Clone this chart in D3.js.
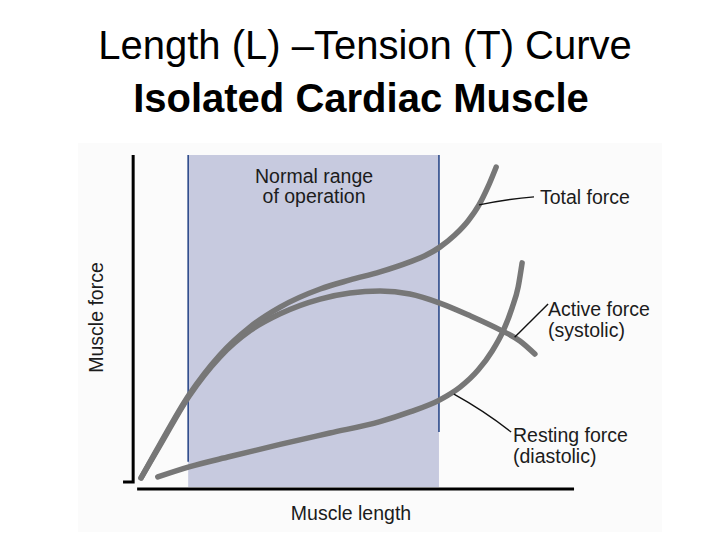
<!DOCTYPE html>
<html>
<head>
<meta charset="utf-8">
<script src="https://cdn.jsdelivr.net/npm/d3@7"></script>
<style>
  body { margin: 0; background: #fff; }
  svg { display: block; font-family: "Liberation Sans", Arial, sans-serif; }
</style>
</head>
<body>
<svg id="chart" width="728" height="546"></svg>
<script>
// ------------------------------------
// Data (arbitrary units: length 0-100, force 0-100)
// ------------------------------------
const totalForce = [
  [0.7, 3.6], [5.0, 13.7], [11.6, 28.4], [18.6, 40.3], [25.5, 48.7],
  [32.3, 54.6], [41.4, 60.0], [48.2, 62.7], [55.0, 65.1], [61.8, 68.1],
  [65.2, 69.9], [68.6, 72.5], [72.0, 76.1], [75.0, 80.3], [77.5, 85.1],
  [79.5, 90.4], [81.4, 96.4]
];

const activeForce = [
  [0.7, 3.6], [5.0, 13.3], [11.6, 28.0], [18.6, 39.7], [25.5, 47.6],
  [32.3, 52.6], [41.4, 57.0], [48.2, 58.8], [55.0, 59.4], [61.8, 58.5],
  [68.6, 55.8], [75.5, 52.0], [82.3, 47.8], [86.8, 44.5], [90.2, 40.6]
];

const restingForce = [
  [4.5, 3.9], [11.6, 6.9], [20.9, 10.0], [32.3, 13.6], [43.6, 17.0],
  [55.0, 20.4], [61.8, 23.3], [68.6, 26.9], [73.2, 30.7], [77.3, 35.8],
  [80.5, 41.5], [83.0, 47.5], [85.0, 54.3], [86.4, 60.6], [87.3, 67.8]
];

const normalRange = [11.4, 68.4];
const titleLines = ["Length (L) \u2013Tension (T) Curve", "Isolated Cardiac Muscle"];

// curve labels: anchor on curve -> end of leader, then text lines
const annotations = [
  { from: [77.5, 85.1], to: [90.0, 87.5], text: ["Total force"] },
  { from: [85.6, 45.6], to: [93.2, 55.5], text: ["Active force", "(systolic)"] },
  { from: [71.8, 28.6], to: [84.8, 17.3], text: ["Resting force", "(diastolic)"] }
];

// ------------------------------------
// Setup
// ------------------------------------
const svg = d3.select("#chart");

const x = d3.scaleLinear().domain([0, 100]).range([138, 578]);
const y = d3.scaleLinear().domain([0, 100]).range([490, 155]);

// title
svg.append("text")
  .attr("x", 365).attr("y", 59)
  .attr("text-anchor", "middle")
  .attr("font-size", 40)
  .text(titleLines[0]);

svg.append("text")
  .attr("x", 361).attr("y", 112)
  .attr("text-anchor", "middle")
  .attr("font-size", 40)
  .attr("font-weight", "bold")
  .text(titleLines[1]);

// faint figure backdrop
svg.append("rect")
  .attr("x", 78).attr("y", 143)
  .attr("width", 584).attr("height", 389)
  .attr("fill", "#fbfbfb");

// normal range band
svg.append("rect")
  .attr("x", x(normalRange[0]))
  .attr("y", y(100))
  .attr("width", x(normalRange[1]) - x(normalRange[0]))
  .attr("height", y(0.9) - y(100))
  .attr("fill", "#c7cadf");

svg.append("line")
  .attr("x1", x(normalRange[0])).attr("x2", x(normalRange[0]))
  .attr("y1", y(100)).attr("y2", y(8.4))
  .attr("stroke", "#2c4a8a").attr("stroke-width", 1.6);

svg.append("line")
  .attr("x1", x(normalRange[1])).attr("x2", x(normalRange[1]))
  .attr("y1", y(100)).attr("y2", y(17.3))
  .attr("stroke", "#2c4a8a").attr("stroke-width", 1.6);

const labelSize = 19.5;
const midBand = (x(normalRange[0]) + x(normalRange[1])) / 2 + 0.5;
svg.append("text")
  .attr("x", midBand).attr("y", 183)
  .attr("text-anchor", "middle")
  .attr("font-size", labelSize)
  .attr("fill", "#1c1c1c")
  .text("Normal range");
svg.append("text")
  .attr("x", midBand).attr("y", 203)
  .attr("text-anchor", "middle")
  .attr("font-size", labelSize)
  .attr("fill", "#1c1c1c")
  .text("of operation");

// ------------------------------------
// Axes (plain lines, no ticks)
// ------------------------------------
svg.append("path")
  .attr("d", `M${x(-1.1)},${y(100)} V${y(2.4)} H${x(-3.4)}`)
  .attr("fill", "none")
  .attr("stroke", "#000")
  .attr("stroke-width", 3);

svg.append("line")
  .attr("x1", x(-0.2)).attr("x2", x(99.1))
  .attr("y1", y(0.3)).attr("y2", y(0.3))
  .attr("stroke", "#000")
  .attr("stroke-width", 3);

svg.append("text")
  .attr("transform", `translate(103, ${y(51.5)}) rotate(-90)`)
  .attr("text-anchor", "middle")
  .attr("font-size", labelSize)
  .attr("fill", "#1c1c1c")
  .text("Muscle force");

svg.append("text")
  .attr("x", 351).attr("y", 520)
  .attr("text-anchor", "middle")
  .attr("font-size", labelSize)
  .attr("fill", "#1c1c1c")
  .text("Muscle length");

// ------------------------------------
// Curves
// ------------------------------------
const line = d3.line()
  .x(d => x(d[0]))
  .y(d => y(d[1]))
  .curve(d3.curveMonotoneX);

[restingForce, activeForce, totalForce].forEach(series => {
  svg.append("path")
    .datum(series)
    .attr("fill", "none")
    .attr("stroke", "#777")
    .attr("stroke-width", 5.5)
    .attr("stroke-linecap", "round")
    .attr("d", line);
});

// ------------------------------------
// Leader lines + labels
// ------------------------------------
annotations.forEach(a => {
  const x1 = x(a.from[0]), y1 = y(a.from[1]);
  const x2 = x(a.to[0]), y2 = y(a.to[1]);
  svg.append("path")
    .attr("d", `M${x1},${y1} Q${(x1 + x2) / 2 + 2},${(y1 + y2) / 2 - 2} ${x2},${y2}`)
    .attr("fill", "none")
    .attr("stroke", "#111")
    .attr("stroke-width", 1.4);
});

const labelPos = [
  { x: 540, y: 204 },
  { x: 548, y: 316 },
  { x: 513, y: 442 }
];

annotations.forEach((a, i) => {
  const t = svg.append("text")
    .attr("x", labelPos[i].x)
    .attr("y", labelPos[i].y)
    .attr("font-size", labelSize)
    .attr("fill", "#1c1c1c");
  a.text.forEach((s, j) => {
    t.append("tspan")
      .attr("x", labelPos[i].x)
      .attr("dy", j === 0 ? 0 : 21)
      .text(s);
  });
});
</script>
</body>
</html>
